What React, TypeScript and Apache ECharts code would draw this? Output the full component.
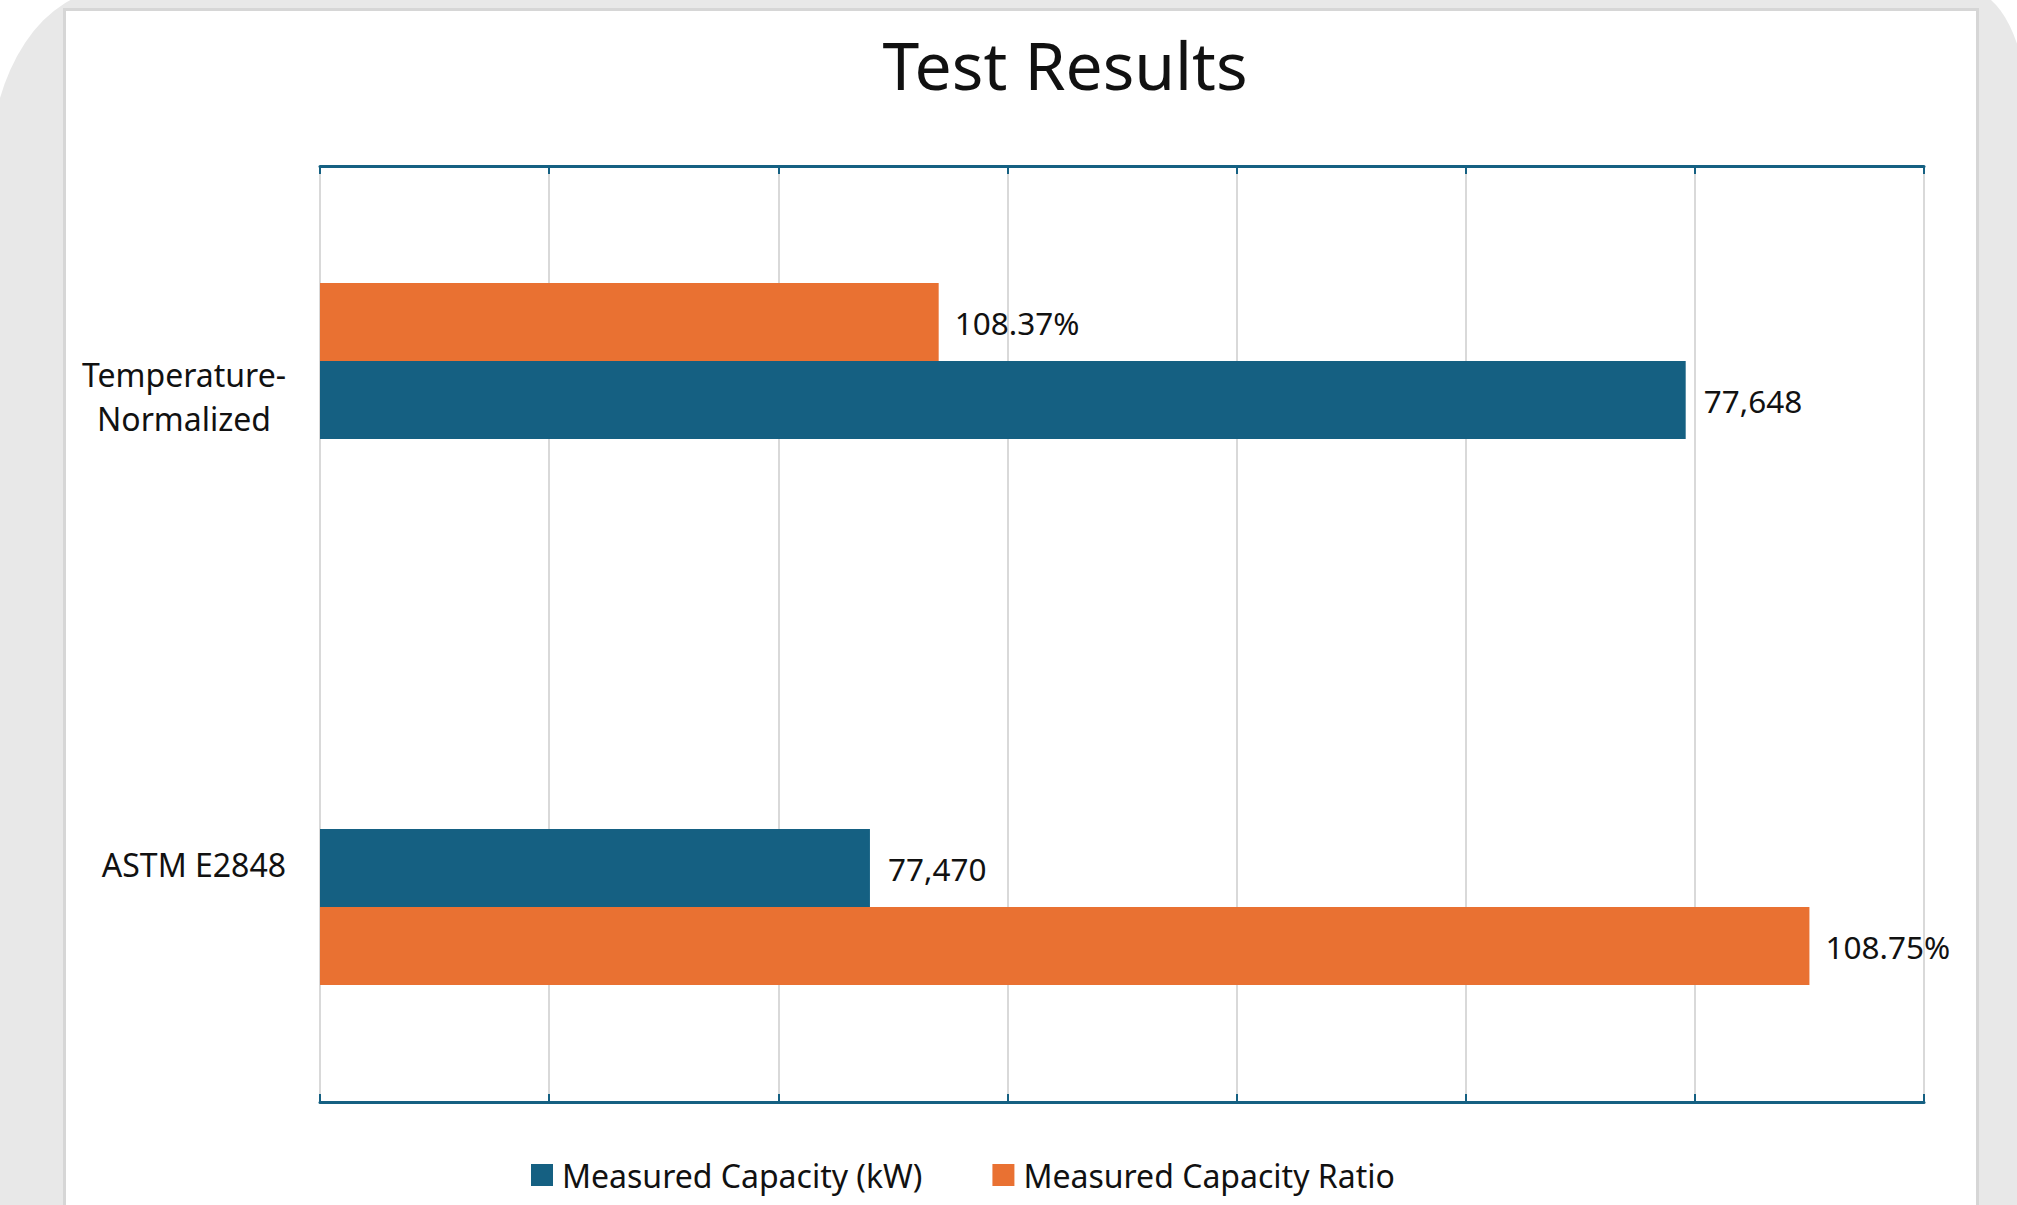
import React, { useEffect, useRef } from "react";
import * as echarts from "echarts";

const categories = ["ASTM E2848", "Temperature-Normalized"];
const capacityValues = [77470, 77648];
// the ratio series sits on its own (secondary) category axis with an empty middle slot
const ratioCategories = ["ASTM E2848", "", "Temperature-Normalized"];
const ratioValues: (number | null)[] = [108.75, null, 108.37];
const seriesNames = ["Measured Capacity (kW)", "Measured Capacity Ratio"];
const capacityAxis = { min: 77350, max: 77700, interval: 50 };
const ratioAxis = { min: 108.1, max: 108.8, interval: 0.1 };

const BLUE = "#156082";
const ORANGE = "#E97132";
const TEXT = "#111111";
const FONT = "Noto Sans";

export default function App() {
  const ref = useRef<HTMLDivElement>(null);
  useEffect(() => {
    if (!ref.current) return;
    const chart = echarts.init(ref.current, undefined, { renderer: "svg" });
    const axisLine = { show: true, lineStyle: { color: BLUE, width: 3 } };
    const axisTick = { show: true, inside: true, length: 8, lineStyle: { color: BLUE, width: 2 } };
    chart.setOption({
      animation: false,
      backgroundColor: "transparent",
      textStyle: { fontFamily: FONT },
      graphic: [
        {
          type: "text",
          x: 1065,
          y: 64,
          style: {
            text: "Test Results",
            fontSize: 66,
            fontFamily: FONT,
            fill: TEXT,
            textAlign: "center",
            textVerticalAlign: "middle",
          },
        },
      ],
      legend: {
        left: 531,
        top: 1159,
        padding: 0,
        itemWidth: 22,
        itemHeight: 22,
        itemGap: 70,
        icon: "rect",
        textStyle: { fontSize: 32, color: TEXT, fontFamily: FONT, padding: [0, 0, 0, 4] },
        data: seriesNames,
      },
      grid: { left: 320, right: 93, top: 166, bottom: 103, containLabel: false },
      xAxis: [
        {
          type: "value",
          position: "bottom",
          min: capacityAxis.min,
          max: capacityAxis.max,
          interval: capacityAxis.interval,
          axisLine,
          axisTick,
          axisLabel: { show: false },
          splitLine: { show: true, lineStyle: { color: "#d9d9d9", width: 2 } },
        },
        {
          type: "value",
          position: "top",
          min: ratioAxis.min,
          max: ratioAxis.max,
          interval: ratioAxis.interval,
          axisLine,
          axisTick,
          axisLabel: { show: false },
          splitLine: { show: false },
        },
      ],
      yAxis: [
        {
          type: "category",
          data: categories,
          axisLine: { show: false },
          axisTick: { show: false },
          axisLabel: {
            margin: 34,
            fontSize: 32,
            color: TEXT,
            fontFamily: FONT,
            align: "right",
            padding: [0, 0, 8, 0],
            formatter: (v: string) =>
              v
                .replace("-", "-\n")
                .split("\n")
                .map((s) => `{c|${s}}`)
                .join("\n"),
            rich: { c: { fontSize: 32, lineHeight: 44, align: "center", color: TEXT, fontFamily: FONT } },
          },
        },
        {
          type: "category",
          data: ratioCategories,
          show: false,
        },
      ],
      series: [
        {
          name: seriesNames[0],
          type: "bar",
          xAxisIndex: 0,
          yAxisIndex: 0,
          data: capacityValues,
          barWidth: 78,
          itemStyle: { color: BLUE },
          label: {
            show: true,
            position: "right",
            distance: 18,
            fontSize: 31.5,
            color: TEXT,
            fontFamily: FONT,
            formatter: (p: any) => Number(p.value).toLocaleString("en-US"),
          },
        },
        {
          name: seriesNames[1],
          type: "bar",
          xAxisIndex: 1,
          yAxisIndex: 1,
          data: ratioValues,
          barWidth: 78,
          itemStyle: { color: ORANGE },
          label: {
            show: true,
            position: "right",
            distance: 16,
            fontSize: 31.5,
            color: TEXT,
            fontFamily: FONT,
            formatter: (p: any) => Number(p.value).toFixed(2) + "%",
          },
        },
      ],
    });
    return () => chart.dispose();
  }, []);

  return (
    <div style={{ position: "fixed", left: 0, top: 0, width: 2017, height: 1205, overflow: "hidden", background: "#ffffff" }}>
      <div
        style={{
          position: "absolute",
          left: -10,
          top: -10,
          width: 2037,
          height: 1300,
          background: "#e8e8e8",
          borderTopLeftRadius: "120px 180px",
          borderTopRightRadius: "60px 120px",
        }}
      />
      <div
        style={{
          position: "absolute",
          left: 63,
          top: 8,
          width: 1916,
          height: 1300,
          background: "#ffffff",
          border: "3px solid #d6d6d6",
          boxSizing: "border-box",
        }}
      />
      <div ref={ref} style={{ position: "absolute", left: 0, top: 0, width: 2017, height: 1205 }} />
    </div>
  );
}
